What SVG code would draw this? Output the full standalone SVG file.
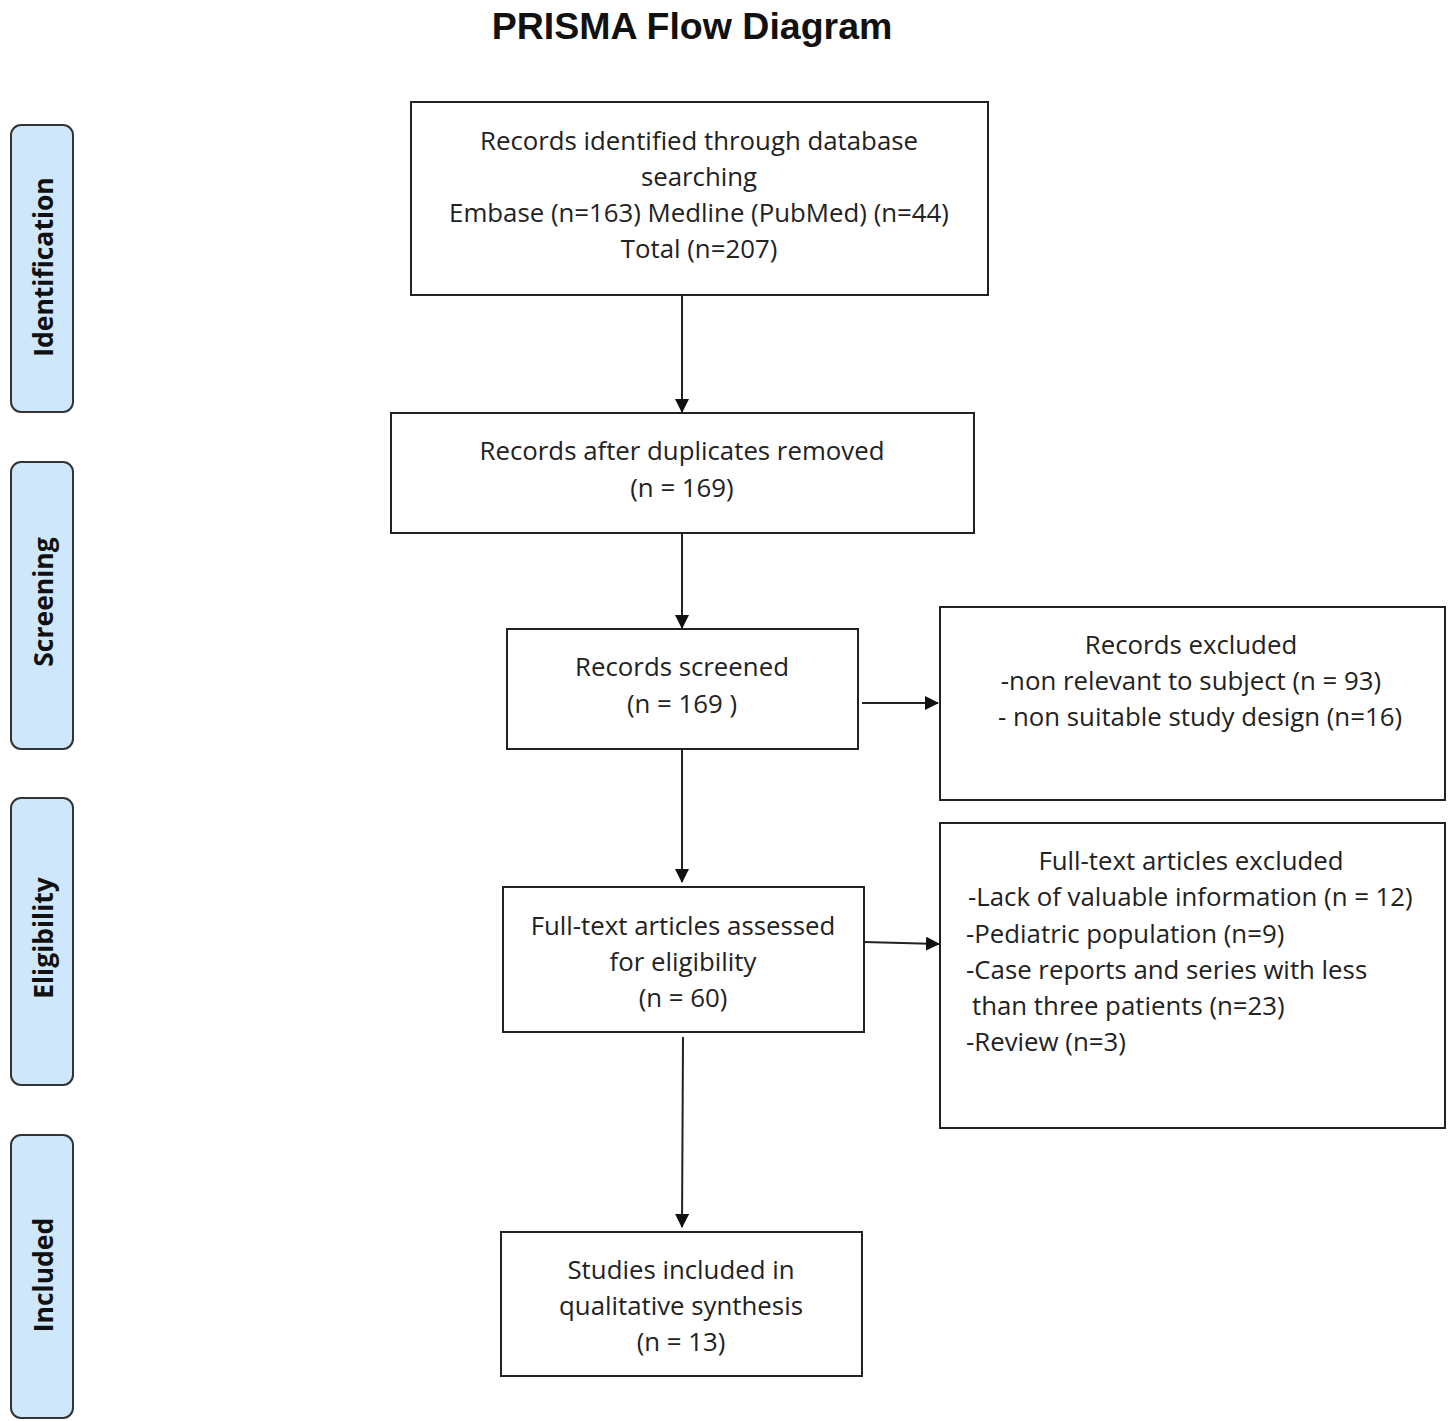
<svg xmlns="http://www.w3.org/2000/svg" width="1452" height="1421" viewBox="0 0 1452 1421">
<style>
.box{fill:#fff;stroke:#222;stroke-width:2}
.side{fill:#cfe7fb;stroke:#333;stroke-width:2}
.t{font-family:"Open Sans","Liberation Sans",Arial,sans-serif;font-size:25.8px;fill:#222;text-anchor:middle}
.l{text-anchor:start}
.sl{font-family:"Open Sans","Liberation Sans",Arial,sans-serif;font-size:26.5px;font-weight:bold;fill:#111;text-anchor:middle}
.title{font-family:"Liberation Sans",Arial,sans-serif;font-size:37.5px;font-weight:bold;fill:#111;text-anchor:middle}
.c{stroke:#222;stroke-width:2;fill:none;marker-end:url(#ah)}
</style>
<defs>
<marker id="ah" markerWidth="14" markerHeight="14" refX="13" refY="7" orient="auto" markerUnits="userSpaceOnUse" viewBox="0 0 14 14">
<path d="M0,0 L14,7 L0,14 Z" fill="#111"/>
</marker>
</defs>
<rect width="1452" height="1421" fill="#fff"/>
<text class="title" x="692" y="39">PRISMA Flow Diagram</text>

<g id="side-identification"><rect class="side" x="11" y="125" width="62" height="287" rx="10"/><text class="sl" transform="translate(53,267) rotate(-90)">Identification</text></g>
<g id="side-screening"><rect class="side" x="11" y="462" width="62" height="287" rx="10"/><text class="sl" transform="translate(53,602) rotate(-90)">Screening</text></g>
<g id="side-eligibility"><rect class="side" x="11" y="798" width="62" height="287" rx="10"/><text class="sl" transform="translate(53,938) rotate(-90)">Eligibility</text></g>
<g id="side-included"><rect class="side" x="11" y="1135" width="62" height="283" rx="10"/><text class="sl" transform="translate(53,1275) rotate(-90)">Included</text></g>

<g id="n1"><rect class="box" x="411" y="102" width="577" height="193"/>
<text class="t" x="699" y="150">Records identified through database</text>
<text class="t" x="699" y="186">searching</text>
<text class="t" x="699" y="222">Embase (n=163) Medline (PubMed) (n=44)</text>
<text class="t" x="699" y="258">Total (n=207)</text></g>

<g id="n2"><rect class="box" x="391" y="413" width="583" height="120"/>
<text class="t" x="682" y="460">Records after duplicates removed</text>
<text class="t" x="682" y="497">(n = 169)</text></g>

<g id="n3"><rect class="box" x="507" y="629" width="351" height="120"/>
<text class="t" x="682" y="676">Records screened</text>
<text class="t" x="682" y="713">(n = 169 )</text></g>

<g id="n4"><rect class="box" x="940" y="607" width="505" height="193"/>
<text class="t" x="1191" y="654">Records excluded</text>
<text class="t" x="1191" y="690">-non relevant to subject (n = 93)</text>
<text class="t" x="1200" y="726">- non suitable study design (n=16)</text></g>

<g id="n5"><rect class="box" x="503" y="887" width="361" height="145"/>
<text class="t" x="683" y="935">Full-text articles assessed</text>
<text class="t" x="683" y="971">for eligibility</text>
<text class="t" x="683" y="1007">(n = 60)</text></g>

<g id="n6"><rect class="box" x="940" y="823" width="505" height="305"/>
<text class="t" x="1191" y="870">Full-text articles excluded</text>
<text class="t l" x="968" y="906">-Lack of valuable information (n = 12)</text>
<text class="t l" x="966" y="943">-Pediatric population (n=9)</text>
<text class="t l" x="966" y="979">-Case reports and series with less</text>
<text class="t l" x="972" y="1015">than three patients (n=23)</text>
<text class="t l" x="966" y="1051">-Review (n=3)</text></g>

<g id="n7"><rect class="box" x="501" y="1232" width="361" height="144"/>
<text class="t" x="681" y="1279">Studies included in</text>
<text class="t" x="681" y="1315">qualitative synthesis</text>
<text class="t" x="681" y="1351">(n = 13)</text></g>

<g id="connectors">
<line class="c" x1="682" y1="295" x2="682" y2="412"/>
<line class="c" x1="682" y1="533" x2="682" y2="628"/>
<line class="c" x1="682" y1="749" x2="682" y2="882"/>
<line class="c" x1="683" y1="1037" x2="682" y2="1227"/>
<line class="c" x1="862" y1="703" x2="938" y2="703"/>
<line class="c" x1="864" y1="942" x2="939" y2="944"/>
</g>
</svg>
